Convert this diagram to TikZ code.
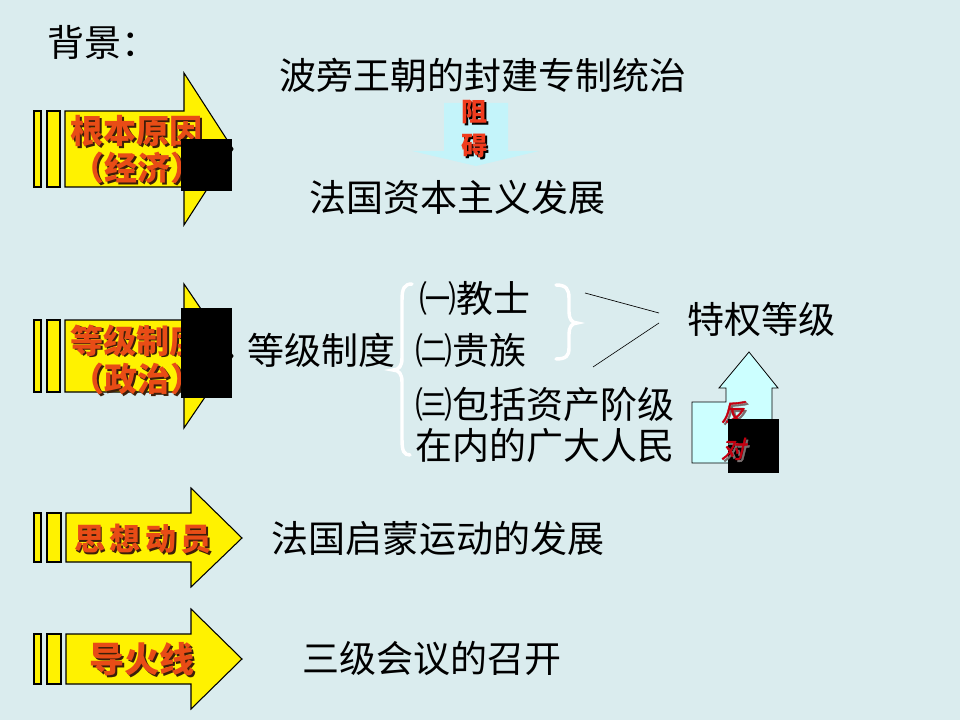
\documentclass[tikz,border=0pt]{standalone}
\usepackage{fontspec}
\setmainfont{Noto Sans CJK SC}
\newfontfamily\cjkslant{Noto Sans CJK SC}[FakeSlant=0.25,FakeBold=1.5]
\definecolor{bgc}{RGB}{218,236,238}
\definecolor{lblred}{RGB}{232,76,22}
\definecolor{lblsh}{RGB}{60,30,10}
\definecolor{zured}{RGB}{240,60,30}
\definecolor{fanred}{RGB}{196,0,16}
\definecolor{fansh}{RGB}{120,110,110}
\definecolor{cyanfill}{RGB}{204,255,255}
\definecolor{downfill}{RGB}{196,244,250}
\newcommand{\pxfont}[1]{\fontsize{#1}{#1}\selectfont}
\newcommand{\shd}[2][lblsh]{\makebox[0pt][l]{\hspace{1.5pt}\raisebox{-1.5pt}{\textcolor{#1}{#2}}}#2}
\tikzset{
  x=0.75pt, y=-0.75pt,
  txt/.style={inner sep=0pt, anchor=base west, font=\pxfont{27.75pt}, text=black},
  lbl/.style={inner sep=0pt, anchor=base, font=\pxfont{24.75pt}\bfseries, text=lblred},
  zu/.style={lbl, font=\pxfont{19.5pt}\bfseries, text=zured},
  fan/.style={inner sep=0pt, anchor=base, font=\pxfont{18pt}\cjkslant, text=fanred},
  yarrow/.style={fill=yellow, draw=black, line width=0.8pt, line join=miter},
  bar/.style={fill=yellow, draw=black, line width=0.8pt},
  blk/.style={fill=black, draw=none},
  wbrace/.style={draw=white, line width=2.6pt, line cap=round},
  thin/.style={draw=black, line width=0.5pt}
}
\begin{document}
\begin{tikzpicture}
\fill[bgc] (0,0) rectangle (960,720);
\useasboundingbox (0,0) rectangle (960,720);

% ---- title
\node[txt] (title) at (47,57) {背景：};

% ---- arrow 1
\path[bar] (34,111) rectangle (41,187);
\path[bar] (47,111) rectangle (60,187);
\path[yarrow] (65,111) -- (184,111) -- (184,73) -- (233,149) -- (184,225) -- (184,187) -- (65,187) -- cycle;
\node[lbl] (l1a) at (136,144) {\shd{根本原因}};
\node[lbl] (l1b) at (137,181) {\shd{（经济）}};
\path[blk] (181,139) rectangle (232,191);

% ---- arrow 2
\path[bar] (34,320) rectangle (41,392);
\path[bar] (47,320) rectangle (60,392);
\path[yarrow] (65,320) -- (184,320) -- (184,284) -- (233,356) -- (184,428) -- (184,392) -- (65,392) -- cycle;
\node[lbl] (l2a) at (136,353) {\shd{等级制度}};
\node[lbl] (l2b) at (137,391) {\shd{（政治）}};
\path[blk] (181,308) rectangle (232,398);

% ---- arrow 3
\path[bar] (34,513) rectangle (41,562);
\path[bar] (47,513) rectangle (61,562);
\path[yarrow] (66,513) -- (191,513) -- (191,488) -- (242,538) -- (191,587) -- (191,562) -- (66,562) -- cycle;
\node[lbl, font=\pxfont{23.25pt}\bfseries] (l3) at (143,550) {\shd{思\hspace{3.5pt}想\hspace{3.5pt}动\hspace{3.5pt}员}};

% ---- arrow 4
\path[bar] (34,634) rectangle (41,684);
\path[bar] (47,634) rectangle (61,684);
\path[yarrow] (66,634) -- (191,634) -- (191,609) -- (242,659) -- (191,709) -- (191,684) -- (66,684) -- cycle;
\node[lbl, font=\pxfont{26.25pt}\bfseries] (l4) at (142,672) {\shd{导火线}};

% ---- top block
\node[txt] (bourbon) at (279,90) {波旁王朝的封建专制统治};
\path[fill=downfill] (444,103) -- (508,103) -- (508,151) -- (539,151) -- (476,166) -- (412,151) -- (444,151) -- cycle;
\node[zu] (zu) at (474,122) {\shd[black]{阻}};
\node[zu] (ai) at (474,156) {\shd[black]{碍}};
\node[txt] (capdev) at (309,212) {法国资本主义发展};

% ---- estates block
\node[txt] (dengji) at (247,364) {等级制度};
\path[wbrace] (412,284) .. controls (404,284) and (402,289) .. (402,300) -- (402,358) .. controls (402,366) and (399,370) .. (393,370) .. controls (399,370) and (402,374) .. (402,382) -- (402,440) .. controls (402,451) and (404,455) .. (410,455);
\node[txt] (e1) at (419,312) {㈠教士};
\node[txt] (e2) at (415,364) {㈡贵族};
\node[txt] (e3a) at (415,418) {㈢包括资产阶级};
\node[txt] (e3b) at (415,459) {在内的广大人民};
\path[wbrace] (556,285) .. controls (566,285) and (569,289) .. (569,298) -- (569,312) .. controls (569,319) and (572,323) .. (577,323) .. controls (572,323) and (569,327) .. (569,334) -- (569,348) .. controls (569,356) and (566,359) .. (556,359);
\coordinate (va) at (585,293);
\coordinate (vb) at (659,313);
\coordinate (vc) at (659,323);
\coordinate (vd) at (593,367);
\draw[thin] (va) -- (vb);
\draw[thin] (vc) -- (vd);
\node[txt] (priv) at (687,333) {特权等级};

% up arrow
\path[fill=cyanfill, draw=black, line width=0.6pt, line join=miter] (692,463) -- (692,402) -- (726,402) -- (726,388) -- (719,388) -- (749,352) -- (778,388) -- (772,388) -- (772,463) -- cycle;
\node[fan] (fan) at (733,421) {\shd[fansh]{反}};
\path[blk] (728,419) rectangle (779,473);
\node[fan] (dui) at (733,458) {\shd[fansh]{对}};

% ---- bottom texts
\node[txt] (enl) at (271,552) {法国启蒙运动的发展};
\node[txt] (estg) at (302,672) {三级会议的召开};
\end{tikzpicture}
\end{document}
